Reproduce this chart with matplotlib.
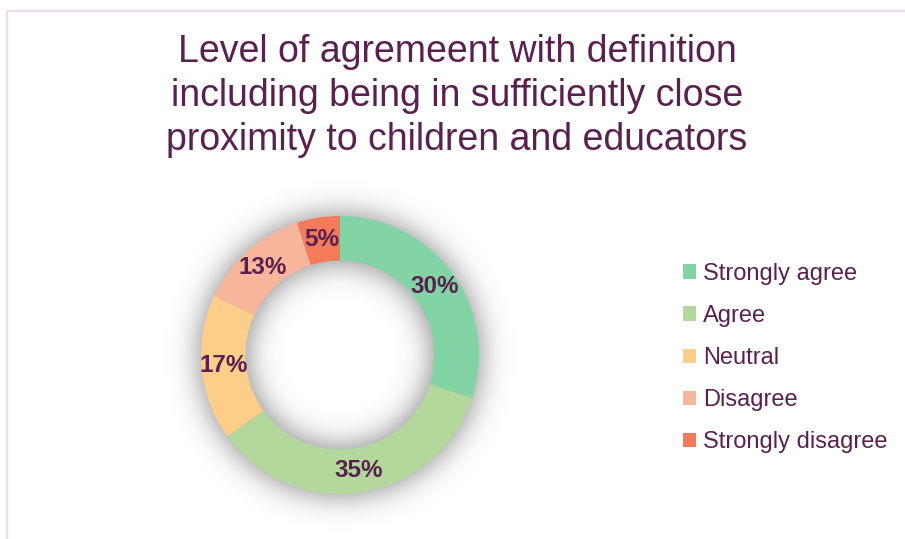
import numpy as np
import matplotlib
matplotlib.use("Agg")
import matplotlib.pyplot as plt
from matplotlib.patches import Rectangle, Patch

plt.rcParams['font.family'] = ['Liberation Sans', 'DejaVu Sans']

categories = ["Strongly agree", "Agree", "Neutral", "Disagree", "Strongly disagree"]
values = [30, 35, 17, 13, 5]
colors = ["#82D4A4", "#B3D89C", "#FDCE8A", "#F7B69B", "#F47A5A"]
title = "Level of agremeent with definition\nincluding being in sufficiently close\nproximity to children and educators"
text_color = "#5A2150"

W, H, DPI = 905, 539, 100
fig = plt.figure(figsize=(W / DPI, H / DPI), dpi=DPI)
fig.patch.set_facecolor("white")

# outer frame of the chart area
frame = Rectangle((6.5 / W, -0.05), 1.2, (H - 10.5) / H + 0.05, transform=fig.transFigure,
                  fill=False, edgecolor="#EEDAF0", linewidth=1.5)
fig.patches.append(frame)

fig.text(457 / W, 1 - 96 / H, title, ha="center", va="center", fontsize=27,
         color=text_color, linespacing=1.27)

# donut axes, centred at (340, 355) px with outer radius 139 px
cx, cy, R = 340, 355, 139
lim = 1.3
half = lim * R
ax = fig.add_axes([(cx - half) / W, (H - cy - half) / H, 2 * half / W, 2 * half / H])
ax.set_xlim(-lim, lim)
ax.set_ylim(-lim, lim)
ax.set_aspect("equal")
ax.axis("off")

# soft shadow around the ring
n = 400
g = np.linspace(-lim, lim, n)
X, Y = np.meshgrid(g, g)
rr = np.hypot(X, Y)
ring = ((rr <= 1.0) & (rr >= 0.68)).astype(float)
sigma = 0.11 / (2 * lim / n)
k = np.arange(-int(4 * sigma), int(4 * sigma) + 1)
kern = np.exp(-0.5 * (k / sigma) ** 2)
kern /= kern.sum()
blur = np.apply_along_axis(lambda r: np.convolve(r, kern, mode="same"), 1, ring)
blur = np.apply_along_axis(lambda c: np.convolve(c, kern, mode="same"), 0, blur)
shadow = np.zeros((n, n, 4))
shadow[..., :3] = 0.45
shadow[..., 3] = np.clip(blur * 0.9, 0, 1)
ax.imshow(shadow, extent=(-lim, lim, -lim, lim), origin="lower", zorder=0,
          interpolation="bilinear")

wedges, _, autotexts = ax.pie(values, colors=colors, startangle=90, counterclock=False,
                              radius=1.0, wedgeprops=dict(width=0.32, linewidth=0),
                              autopct=lambda p: f"{p:.0f}%", pctdistance=0.84,
                              textprops=dict(color=text_color, fontsize=17.5, fontweight="bold"))
for w in wedges:
    w.set_zorder(2)
for t in autotexts:
    t.set_zorder(3)
ax.set_xlim(-lim, lim)
ax.set_ylim(-lim, lim)

handles = [Patch(facecolor=c, edgecolor="none") for c in colors]
fig.legend(handles, categories, loc="center left", bbox_to_anchor=(671 / W, 1 - 358 / H),
           frameon=False, fontsize=17, labelcolor=text_color, handlelength=0.55,
           handleheight=0.55, handletextpad=0.3, labelspacing=0.85, borderpad=0)

fig.savefig("out.png", dpi=DPI, facecolor="white")
